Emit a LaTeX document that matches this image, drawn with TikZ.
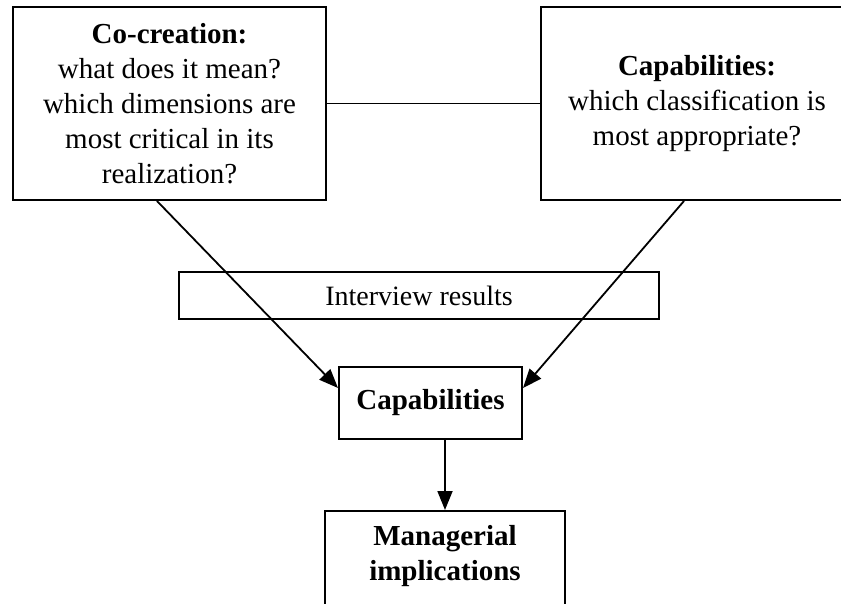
\documentclass[tikz,border=0pt]{standalone}
\usepackage{fontspec}
\setmainfont{Liberation Serif}
\usetikzlibrary{arrows.meta,calc}
\begin{document}
\begin{tikzpicture}[x=1pt,y=-1pt,
  box/.style={draw=black,line width=2pt,rectangle,inner sep=0pt,align=center,
    font=\fontsize{29}{35}\selectfont},
  txt/.style={inner sep=0pt,align=center,font=\fontsize{29}{35}\selectfont},
  conn/.style={draw=black,line width=1.8pt},
  arr/.style={conn,-{Triangle[length=19pt,width=15pt]}}]
\useasboundingbox (0,0) rectangle (841,604);
\clip (0,0) rectangle (841,604);
\fill[white] (0,0) rectangle (841,604);
\node[box,minimum width=313pt,minimum height=193pt] (cocreation) at (169.5,103.5)
  {\textbf{Co-creation:}\\what does it mean?\\which dimensions are\\most critical in its\\realization?};
\node[box,minimum width=312pt,minimum height=193pt] (capq) at (697,103.5)
  {\textbf{Capabilities:}\\which classification is\\most appropriate?};
\node[box,minimum width=480pt,minimum height=47pt,font=\fontsize{28}{34}\selectfont] (interview) at (419,295.5)
  {Interview results};
\node[box,minimum width=183pt,minimum height=72pt] (cap) at (430.5,403)
  {\textbf{Capabilities}};
\node[box,minimum width=240pt,minimum height=130pt,anchor=north] (mgr) at (445,510) {};
\node[txt] (mgrtext) at (445,556) {\textbf{Managerial}\\\textbf{implications}};
\draw[conn] (cocreation.east) -- (capq.west);
\draw[arr] ([xshift=145pt]cocreation.south west) -- ([yshift=15pt]cap.west);
\draw[arr] ([xshift=144pt]capq.south west) -- ([yshift=15pt]cap.east);
\draw[arr] (cap.south -| mgr.north) -- (mgr.north);
\end{tikzpicture}
\end{document}
